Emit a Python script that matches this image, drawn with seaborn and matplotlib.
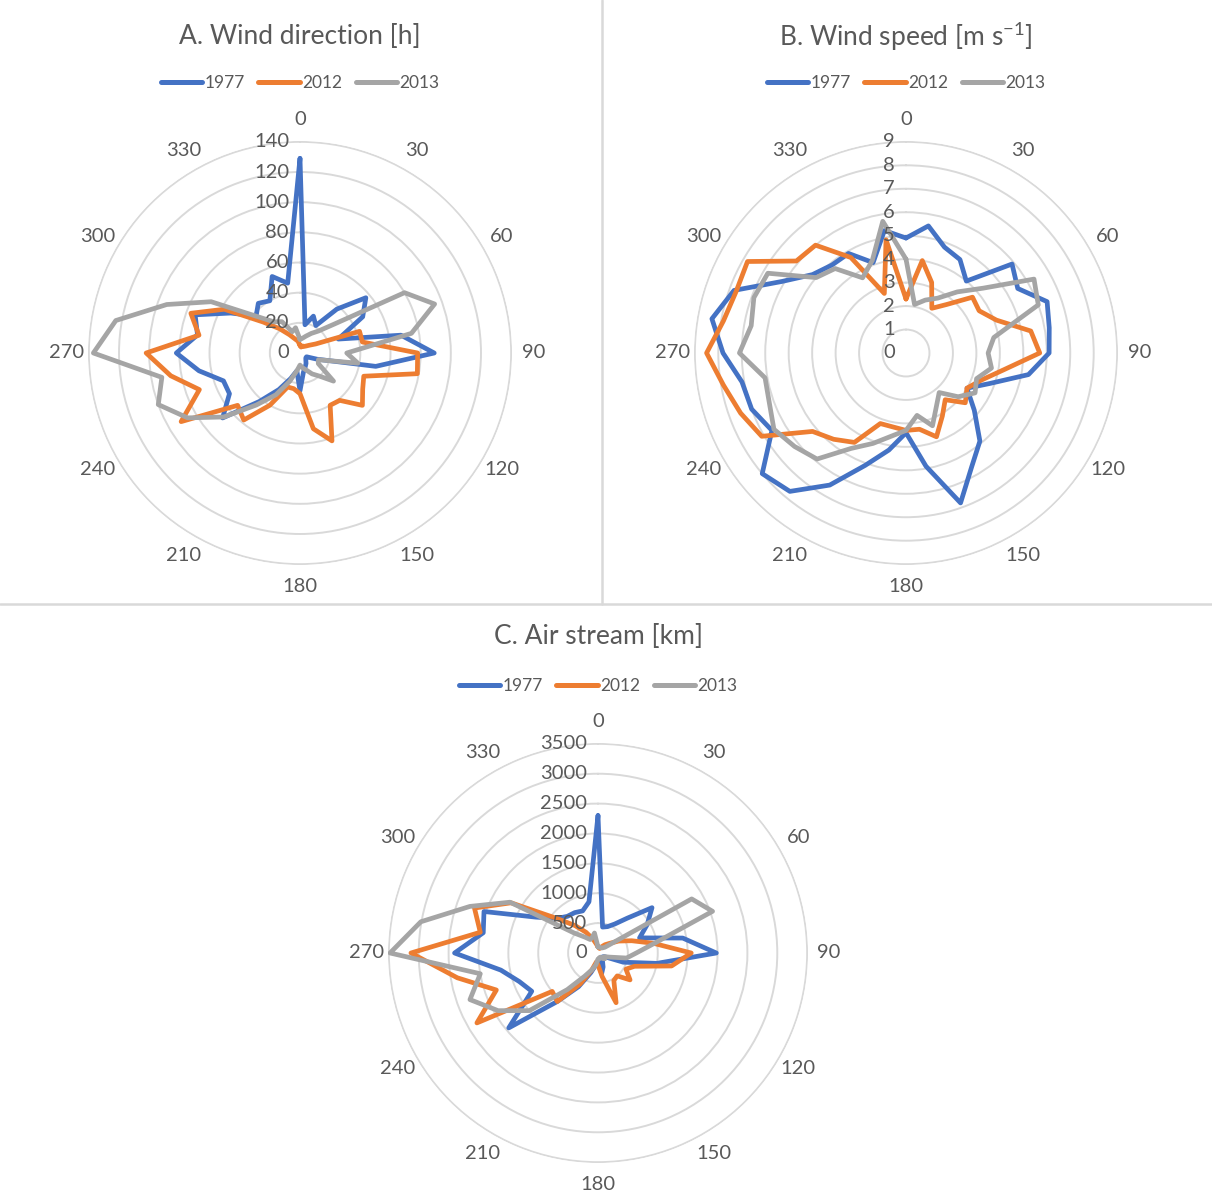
import numpy as np
import pandas as pd
import seaborn as sns
import matplotlib
matplotlib.use("Agg")
import matplotlib.pyplot as plt
from matplotlib.lines import Line2D
import matplotlib.transforms as mtransforms

sns.set_theme(style="white")
plt.rcParams['font.family'] = ['Lato', 'DejaVu Sans']
plt.rcParams['mathtext.fontset'] = 'custom'
plt.rcParams['mathtext.rm'] = 'Lato'
plt.rcParams['mathtext.it'] = 'Lato'

# ---- data -------------------------------------------------------------
directions = list(range(0, 360, 10))
years = ["1977", "2012", "2013"]
colors = ["#4472C4", "#ED7D31", "#A5A5A5"]

# A. Wind direction [h]
hours_1977 = [129, 19, 26, 21, 38, 57, 48, 27, 68, 89, 51, 12, 5, 5, 6, 8, 10, 13,
              25, 12, 18, 28, 42, 67, 54, 54, 68, 82, 69, 74, 53, 38, 43, 40, 54, 47]
hours_2012 = [5, 4, 5, 5, 6, 8, 12, 42, 42, 78, 79, 45, 48, 54, 41, 40, 62, 51,
              27, 24, 24, 40, 58, 54, 91, 71, 87, 102, 68, 77, 58, 32, 21, 14, 10, 8]
hours_2013 = [9, 10, 12, 15, 19, 30, 80, 95, 75, 31, 39, 13, 14, 29, 20, 16, 12, 10,
              8, 12, 20, 32, 45, 66, 86, 100, 93, 137, 124, 94, 68, 38, 27, 24, 15, 17]

# B. Wind speed [m s-1]
speed_1977 = [4.9, 5.5, 4.8, 4.6, 4.0, 5.9, 5.5, 6.4, 6.2, 6.1, 5.3, 3.8, 3.0, 3.8, 4.9, 5.6, 6.8, 4.9,
              3.4, 4.2, 5.1, 6.5, 7.7, 8.0, 6.6, 7.0, 7.1, 7.8, 8.4, 7.8, 6.1, 5.2, 4.9, 4.9, 4.1, 5.3]
speed_2012 = [2.3, 4.0, 3.2, 2.2, 2.7, 3.7, 3.6, 4.1, 5.4, 5.7, 4.2, 3.4, 3.0, 3.3, 2.6, 3.1, 3.8, 3.3,
              3.3, 3.2, 3.2, 4.4, 4.8, 5.2, 7.1, 7.5, 7.9, 8.5, 7.9, 7.7, 7.8, 6.1, 6.0, 4.7, 2.7, 4.9]
speed_2013 = [4.0, 2.1, 2.4, 2.7, 3.4, 4.3, 6.3, 6.0, 3.8, 3.5, 3.7, 3.2, 3.4, 2.9, 2.2, 2.6, 3.3, 2.7,
              3.3, 3.6, 4.1, 4.7, 5.9, 6.2, 6.5, 6.2, 6.1, 7.1, 6.7, 6.9, 6.8, 5.0, 4.7, 3.7, 4.2, 5.7]

# C. Air stream [km]
stream_1977 = [2300, 440, 470, 560, 760, 1180, 950, 740, 1440, 1980, 1000, 450, 120, 100, 120, 150, 250, 350,
               150, 200, 350, 650, 1060, 1950, 1280, 1400, 1650, 2400, 1950, 2030, 1200, 900, 800, 780, 750, 870]
stream_2012 = [100, 90, 80, 120, 180, 250, 400, 600, 940, 1560, 1250, 650, 540, 700, 500, 530, 885, 400,
               200, 150, 300, 600, 1060, 1000, 2340, 1810, 2390, 3130, 2000, 2200, 1680, 900, 600, 400, 250, 150]
stream_2013 = [100, 100, 100, 100, 110, 150, 1810, 2040, 970, 640, 485, 200, 120, 150, 120, 80, 80, 100,
               100, 200, 300, 450, 800, 1500, 1930, 2280, 2000, 3480, 3010, 2280, 1700, 520, 350, 260, 280, 340]

# ---- layout ------------------------------------------------------------
W, H = 1212, 1202
TEXT = "#595959"
GRID = "#D9D9D9"
fig = plt.figure(figsize=(W / 100, H / 100), dpi=100)
fig.patch.set_facecolor("white")


def long_frame(series):
    rows = []
    for year, vals in zip(years, series):
        closed = list(vals) + [vals[0]]
        angles = list(directions) + [360]
        for a, v in zip(angles, closed):
            rows.append({"theta": np.deg2rad(a), "value": v, "year": year})
    return pd.DataFrame(rows)


def radar(cx, cy, R, series, rmax, step, title, title_y, legend_y):
    ax = fig.add_axes([(cx - R) / W, (H - cy - R) / H, 2 * R / W, 2 * R / H],
                      projection="polar")
    ax.set_theta_zero_location("N")
    ax.set_theta_direction(-1)
    ax.set_facecolor("none")
    ticks = np.arange(0, rmax + step / 2, step)
    ax.set_ylim(0, rmax * 1.004)
    ax.set_yticks(ticks)
    ax.set_yticklabels([])
    ax.set_xticks([])
    ax.yaxis.grid(True, color=GRID, linewidth=1.4)
    ax.xaxis.grid(False)
    ax.spines["polar"].set_visible(False)

    df = long_frame(series)
    sns.lineplot(data=df, x="theta", y="value", hue="year", palette=colors,
                 sort=False, estimator=None, linewidth=3.4, legend=False, ax=ax,
                 solid_joinstyle="round")
    ax.set_xlabel("")
    ax.set_ylabel("")
    ax.set_ylim(0, rmax * 1.004)

    # radial value labels along the north axis
    off = mtransforms.ScaledTranslation(-11 / 100, 0, fig.dpi_scale_trans)
    for v in ticks:
        lab = f"{v:g}"
        ax.text(0, v, lab, transform=ax.transData + off, ha="right", va="center",
                fontsize=14.5, color=TEXT, zorder=5)
    # direction labels
    for a in range(0, 360, 30):
        ax.text(np.deg2rad(a), rmax * 1.105, str(a), ha="center", va="center",
                fontsize=14.5, color=TEXT, clip_on=False)

    fig.text(cx / W, 1 - title_y / H, title, ha="center", va="center",
             fontsize=19, color=TEXT)
    handles = [Line2D([0], [0], color=c, lw=3.6, solid_capstyle="round") for c in colors]
    leg = fig.legend(handles, years, loc="center", bbox_to_anchor=(cx / W, 1 - legend_y / H),
                     ncol=3, frameon=False, fontsize=12.5, handlelength=2.4,
                     handletextpad=0.1, columnspacing=0.8)
    for t in leg.get_texts():
        t.set_color(TEXT)
    return ax


radar(300, 353, 212, [hours_1977, hours_2012, hours_2013], 140, 20,
      "A. Wind direction [h]", 37, 83)
radar(906, 353, 212, [speed_1977, speed_2012, speed_2013], 9, 1,
      r"B. Wind speed [m s$^{\mathregular{-1}}$]", 37, 83)
radar(598, 953, 210, [stream_1977, stream_2012, stream_2013], 3500, 500,
      "C. Air stream [km]", 637, 686)

# panel separators
fig.add_artist(Line2D([602 / W, 602 / W], [1 - 0 / H, 1 - 604 / H],
                      transform=fig.transFigure, color=GRID, lw=1.8))
fig.add_artist(Line2D([0, 1], [1 - 604 / H, 1 - 604 / H],
                      transform=fig.transFigure, color=GRID, lw=1.8))

fig.savefig("out.png", dpi=100, facecolor="white")
